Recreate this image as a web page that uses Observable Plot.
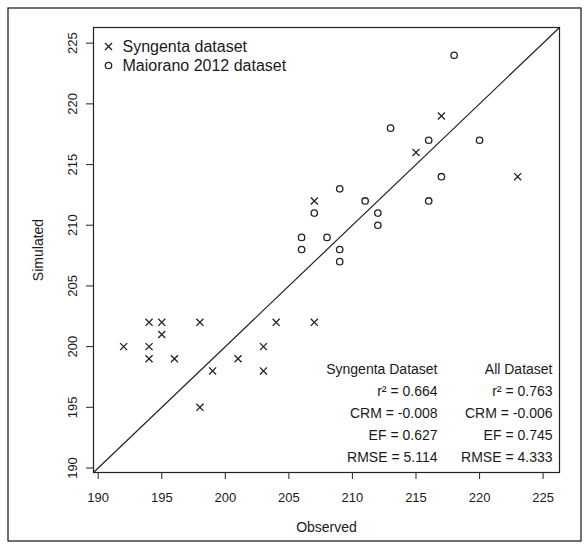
<!DOCTYPE html>
<html>
<head>
<meta charset="utf-8">
<script src="https://cdn.jsdelivr.net/npm/d3@7"></script>
<script src="https://cdn.jsdelivr.net/npm/@observablehq/plot@0.6"></script>
<style>
  html, body { margin: 0; padding: 0; background: #fff; }
</style>
</head>
<body>
<div id="chart"></div>
<script>
// Syngenta dataset (crosses)
const syngentaObs = [194, 195, 198, 204, 195, 192, 194, 203, 194, 196, 201, 199, 203, 198, 207, 207, 215, 217, 223];
const syngentaSim = [202, 202, 202, 202, 201, 200, 200, 200, 199, 199, 199, 198, 198, 195, 202, 212, 216, 219, 214];
// Maiorano 2012 dataset (circles)
const maioranoObs = [218, 213, 216, 220, 217, 209, 211, 216, 207, 212, 212, 206, 208, 206, 209, 209];
const maioranoSim = [224, 218, 217, 217, 214, 213, 212, 212, 211, 211, 210, 209, 209, 208, 208, 207];

const ticks = [190, 195, 200, 205, 210, 215, 220, 225];
const domain = [189.63, 226.29];

const legendLabels = ["Syngenta dataset", "Maiorano 2012 dataset"];
const statNames = ["r²", "CRM", "EF", "RMSE"];
const syngentaStats = ["0.664", "-0.008", "0.627", "5.114"];
const allStats = ["0.763", "-0.006", "0.745", "4.333"];
const statHeaders = ["Syngenta Dataset", "All Dataset"];

const syngenta = syngentaObs.map((x, i) => ({x, y: syngentaSim[i]}));
const maiorano = maioranoObs.map((x, i) => ({x, y: maioranoSim[i]}));
const oneToOne = [{v: domain[0]}, {v: domain[1]}];

const font = "'Liberation Sans', Arial, Helvetica, sans-serif";
const ink = "#1a1a1a";
const crossR = 3.3;
const circleR = 3.2;

const statRows = (col, values) => [
  statHeaders[col],
  ...statNames.map((n, i) => `${n} = ${values[i]}`)
];
const rowsLeft = statRows(0, syngentaStats);
const rowsRight = statRows(1, allStats);

const statMarks = [];
[[rowsLeft, -122], [rowsRight, -7]].forEach(([rows, dx]) => {
  rows.forEach((t, k) => {
    statMarks.push(Plot.text([t], {frameAnchor: "bottom-right", dx, dy: -103 + 22 * k, text: d => d, textAnchor: "end", lineAnchor: "middle", fontSize: 14, fill: ink}));
  });
});

const chart = Plot.plot({
  width: 588,
  height: 548,
  marginLeft: 93,
  marginRight: 29,
  marginTop: 27,
  marginBottom: 76,
  style: {fontFamily: font, background: "#fff", color: ink},
  x: {domain, axis: null},
  y: {domain, axis: null},
  marks: [
    // outer figure border
    Plot.frame({stroke: "#111", strokeWidth: 1.2, insetLeft: -85.5, insetTop: -19.5, insetRight: -21.5, insetBottom: -68.5}),
    Plot.frame({stroke: "#222", strokeWidth: 1.2}),
    // axes
    Plot.axisX({ticks, tickSize: 7, tickFormat: () => "", stroke: "#333", strokeWidth: 1.1, label: null}),
    Plot.axisY({ticks, tickSize: 7, tickFormat: () => "", stroke: "#333", strokeWidth: 1.1, label: null}),
    Plot.text(ticks, {x: d => d, y: domain[0], text: d => String(d), dy: 25, fontSize: 13, fill: ink, lineAnchor: "middle"}),
    Plot.text(ticks, {x: domain[0], y: d => d, text: d => String(d), dx: -21, rotate: -90, fontSize: 13, fill: ink, lineAnchor: "middle", textAnchor: "middle"}),
    Plot.text(["Observed"], {frameAnchor: "bottom", dy: 55, fontSize: 14, fill: ink, lineAnchor: "middle"}),
    Plot.text(["Simulated"], {frameAnchor: "left", dx: -55, rotate: -90, fontSize: 14, fill: ink, lineAnchor: "middle", textAnchor: "middle"}),
    // 1:1 line
    Plot.line(oneToOne, {x: "v", y: "v", stroke: "#222", strokeWidth: 1.2}),
    // data
    Plot.dot(syngenta, {x: "x", y: "y", symbol: "times", r: crossR, stroke: "#222", strokeWidth: 1.3}),
    Plot.dot(maiorano, {x: "x", y: "y", symbol: "circle", r: circleR, stroke: "#222", strokeWidth: 1.3, fill: "none"}),
    // legend
    Plot.dot([legendLabels[0]], {frameAnchor: "top-left", dx: 15, dy: 19, symbol: "times", r: crossR, stroke: "#222", strokeWidth: 1.3}),
    Plot.dot([legendLabels[1]], {frameAnchor: "top-left", dx: 15, dy: 38, symbol: "circle", r: circleR, stroke: "#222", strokeWidth: 1.3, fill: "none"}),
    Plot.text([legendLabels[0]], {frameAnchor: "top-left", dx: 29, dy: 19.5, text: d => d, textAnchor: "start", lineAnchor: "middle", fontSize: 16, fill: ink}),
    Plot.text([legendLabels[1]], {frameAnchor: "top-left", dx: 29, dy: 38.5, text: d => d, textAnchor: "start", lineAnchor: "middle", fontSize: 16, fill: ink}),
    // statistics
    ...statMarks
  ]
});
document.getElementById("chart").appendChild(chart);
</script>
</body>
</html>
